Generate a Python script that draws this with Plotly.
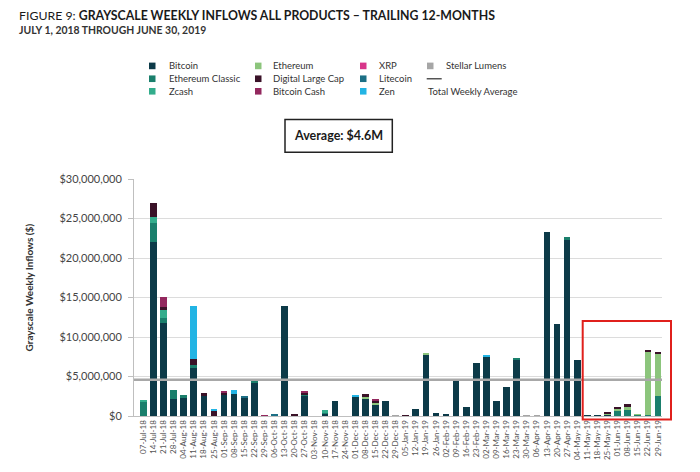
import plotly.graph_objects as go

dates = ["07-Jul-18","14-Jul-18","21-Jul-18","28-Jul-18","04-Aug-18","11-Aug-18","18-Aug-18","25-Aug-18",
         "01-Sep-18","08-Sep-18","15-Sep-18","22-Sep-18","29-Sep-18","06-Oct-18","13-Oct-18","20-Oct-18",
         "27-Oct-18","03-Nov-18","10-Nov-18","17-Nov-18","24-Nov-18","01-Dec-18","08-Dec-18","15-Dec-18",
         "22-Dec-18","29-Dec-18","05-Jan-19","12-Jan-19","19-Jan-19","26-Jan-19","02-Feb-19","09-Feb-19",
         "16-Feb-19","23-Feb-19","02-Mar-19","09-Mar-19","16-Mar-19","23-Mar-19","30-Mar-19","06-Apr-19",
         "13-Apr-19","20-Apr-19","27-Apr-19","04-May-19","11-May-19","18-May-19","25-May-19","01-Jun-19",
         "08-Jun-19","15-Jun-19","22-Jun-19","29-Jun-19"]

# values in $ millions
bitcoin = [0, 22.0, 11.8, 2.15, 2.3, 6.1, 2.55, 0, 2.75, 2.84, 2.3, 4.3, 0, 0, 13.9, 0.1,
           2.65, 0, 0.3, 1.9, 0, 2.45, 2.1, 1.36, 1.9, 0, 0.08, 0.93, 7.8, 0.42, 0.13, 4.44,
           1.18, 6.73, 7.5, 1.9, 3.68, 7.15, 0, 0, 23.3, 11.7, 22.3, 7.15, 0.05, 0.04, 0.2, 0,
           0, 0, 0, 0]
ethereum_classic = [1.85, 2.4, 0.6, 1.2, 0.35, 0.35, 0, 0, 0, 0, 0, 0.15, 0, 0, 0, 0,
                    0.1, 0, 0.2, 0, 0, 0, 0, 0, 0, 0, 0, 0, 0, 0, 0, 0,
                    0, 0, 0, 0, 0, 0.12, 0, 0, 0, 0, 0.3, 0, 0, 0, 0, 0.6,
                    0.75, 0.15, 0.17, 2.55]
zcash = [0.2, 0.8, 1.0, 0, 0, 0, 0, 0, 0, 0, 0, 0, 0, 0, 0, 0,
         0, 0, 0.22, 0, 0, 0, 0, 0, 0, 0, 0, 0, 0, 0, 0, 0,
         0, 0, 0, 0, 0, 0, 0, 0, 0, 0, 0, 0, 0, 0, 0, 0,
         0, 0, 0, 0]
ethereum = [0, 0, 0, 0, 0, 0, 0, 0, 0, 0, 0, 0, 0, 0, 0, 0,
            0, 0, 0, 0, 0, 0, 0.42, 0.29, 0, 0, 0, 0, 0.2, 0, 0, 0,
            0, 0, 0, 0, 0, 0, 0, 0, 0, 0, 0, 0, 0, 0, 0.1, 0.35,
            0.42, 0.06, 8.05, 5.4]
digital_large_cap = [0, 1.7, 0.4, 0, 0, 0.75, 0.42, 0.73, 0.2, 0, 0, 0, 0, 0, 0, 0.08,
                     0.2, 0, 0, 0, 0, 0, 0.23, 0.34, 0, 0, 0.03, 0, 0, 0, 0, 0,
                     0, 0, 0, 0, 0, 0, 0, 0, 0, 0, 0, 0, 0, 0, 0.15, 0.1,
                     0.35, 0, 0.13, 0.12]
bitcoin_cash = [0, 0, 1.3, 0, 0, 0, 0, 0, 0.22, 0, 0, 0, 0.1, 0, 0, 0,
                0.15, 0, 0, 0, 0, 0, 0, 0.21, 0, 0, 0, 0, 0, 0, 0, 0,
                0, 0, 0, 0, 0, 0, 0, 0, 0, 0, 0, 0, 0, 0, 0, 0,
                0, 0, 0, 0]
xrp = [0] * 52
litecoin = [0, 0, 0, 0, 0, 0, 0, 0, 0, 0, 0.2, 0, 0, 0.2, 0, 0,
            0, 0, 0, 0, 0, 0, 0, 0, 0, 0, 0, 0, 0, 0, 0, 0,
            0, 0, 0, 0, 0, 0, 0, 0, 0, 0, 0, 0, 0, 0, 0, 0,
            0, 0, 0, 0]
zen = [0, 0, 0, 0, 0, 6.7, 0, 0.2, 0, 0.42, 0, 0, 0, 0, 0, 0,
       0, 0, 0, 0, 0, 0.13, 0, 0, 0, 0, 0, 0, 0, 0, 0, 0,
       0, 0, 0.2, 0, 0, 0, 0, 0, 0, 0, 0, 0, 0, 0, 0, 0,
       0, 0, 0, 0]
stellar_lumens = [0, 0, 0, 0, 0, 0, 0, 0, 0, 0, 0, 0, 0, 0, 0, 0,
                  0, 0, 0, 0, 0, 0, 0, 0, 0, 0.06, 0, 0, 0, 0, 0, 0,
                  0, 0, 0, 0, 0, 0, 0.06, 0.06, 0, 0, 0, 0, 0, 0, 0, 0,
                  0, 0, 0, 0]

series = [
    ("Bitcoin", bitcoin, "#0c3a48"),
    ("Ethereum Classic", ethereum_classic, "#1a7f6c"),
    ("Zcash", zcash, "#33ad8c"),
    ("Ethereum", ethereum, "#8cc57c"),
    ("Digital Large Cap", digital_large_cap, "#3a1228"),
    ("Bitcoin Cash", bitcoin_cash, "#93285e"),
    ("XRP", xrp, "#d8358a"),
    ("Litecoin", litecoin, "#1c6f85"),
    ("Zen", zen, "#22b4e4"),
    ("Stellar Lumens", stellar_lumens, "#a6a6a6"),
]

totals = [sum(s[1][i] for s in series) for i in range(len(dates))]
average = sum(totals) / len(totals) * 1e6

FONT = "Lato"
OFF = 8  # page body margin
W, H = 700 - OFF, 472 - OFF
ML = 134 - OFF
MT = 179.3 - OFF
PR = 662 - OFF
PB = 415.7 - OFF
MR = W - PR
MB = H - PB
PW, PH = PR - ML, PB - MT


def px(x):
    return (x - OFF - ML) / PW


def py(y):
    return (PB - (y - OFF)) / PH


fig = go.Figure()
for name, vals, color in series:
    fig.add_trace(go.Bar(x=dates, y=[v * 1e6 for v in vals], name=name,
                         marker=dict(color=color, line=dict(width=0)), showlegend=False))

fig.update_layout(
    width=W, height=H, barmode="stack", bargap=0.34,
    margin=dict(l=ML, r=MR, t=MT, b=MB, autoexpand=False),
    paper_bgcolor="white", plot_bgcolor="white",
    font=dict(family=FONT, color="#333333"),
    showlegend=False,
    xaxis=dict(type="category", range=[-0.92, 51.4], tickangle=-90, automargin=False,
               tickfont=dict(size=8, color="#555555"), showline=True,
               linecolor="#bfbfbf", linewidth=1, ticks="", showgrid=False),
    yaxis=dict(range=[0, 30e6], tickvals=[i * 5e6 for i in range(7)], tickformat="$,.0f",
               automargin=False,
               tickfont=dict(size=11, color="#444444"), showline=True, linecolor="#bfbfbf",
               linewidth=1, ticks="outside", ticklen=5, tickcolor="#bfbfbf",
               gridcolor="#dcdcdc", gridwidth=1, zeroline=False, ticklabelstandoff=4),
)

shapes = []
annots = []
# average line
shapes.append(dict(type="line", xref="paper", x0=0, x1=1, yref="y", y0=average, y1=average,
                   line=dict(color="#a8a8a8", width=2.5), layer="above"))
# red highlight box
shapes.append(dict(type="rect", xref="paper", yref="paper", x0=px(582.7), x1=px(671),
                   y0=py(419.3), y1=py(321), line=dict(color="#e0201c", width=2)))
# average box
shapes.append(dict(type="rect", xref="paper", yref="paper", x0=px(285), x1=px(392.3),
                   y0=py(152.7), y1=py(120), line=dict(color="#222222", width=1.5)))
annots.append(dict(xref="paper", yref="paper", x=px(338.6), y=py(136.3), showarrow=False,
                   xanchor="center", yanchor="middle",
                   text="<b>Average: $%.1fM</b>" % (average / 1e6),
                   font=dict(size=12.5, color="#1a1a1a", family=FONT)))

# legend
col_mx = [149, 255, 360, 427]
col_tx = [166.7, 270.7, 376.7, 444]
row_y = [66.5, 79.3, 91.8]
for idx, (name, vals, color) in enumerate(series):
    c, r = divmod(idx, 3)
    mx, my = col_mx[c], row_y[r]
    shapes.append(dict(type="rect", xref="paper", yref="paper", x0=px(mx), x1=px(mx + 6.5),
                       y0=py(my + 3.3), y1=py(my - 3.3), line=dict(width=0), fillcolor=color))
    annots.append(dict(xref="paper", yref="paper", x=px(col_tx[c]), y=py(my), xanchor="left",
                       yanchor="middle", showarrow=False, text=name,
                       font=dict(size=9.5, color="#333333", family=FONT)))
shapes.append(dict(type="line", xref="paper", yref="paper", x0=px(426.7), x1=px(441.7),
                   y0=py(79.3), y1=py(79.3), line=dict(color="#555555", width=1.5)))
annots.append(dict(xref="paper", yref="paper", x=px(426), y=py(91.8), xanchor="left",
                   yanchor="middle", showarrow=False, text="Total Weekly Average",
                   font=dict(size=9.5, color="#333333", family=FONT)))

# titles
annots.append(dict(xref="paper", yref="paper", x=px(17), y=py(16.5), xanchor="left", yanchor="middle",
                   showarrow=False,
                   text="FIGURE 9: <b>GRAYSCALE WEEKLY INFLOWS ALL PRODUCTS \u2013 TRAILING 12-MONTHS</b>",
                   font=dict(size=12.3, color="#1a1a1a", family=FONT)))
annots.append(dict(xref="paper", yref="paper", x=px(17), y=py(30.7), xanchor="left", yanchor="middle",
                   showarrow=False, text="<b>JULY 1, 2018 THROUGH JUNE 30, 2019</b>",
                   font=dict(size=10.4, color="#333333", family=FONT)))
# y-axis title
annots.append(dict(xref="paper", yref="paper", x=px(29), y=py(287.5), xanchor="center", yanchor="middle",
                   showarrow=False, textangle=-90, text="<b>Grayscale Weekly Inflows ($)</b>",
                   font=dict(size=10, color="#333333", family=FONT)))

fig.update_layout(shapes=shapes, annotations=annots)
fig.write_html("out.html")
